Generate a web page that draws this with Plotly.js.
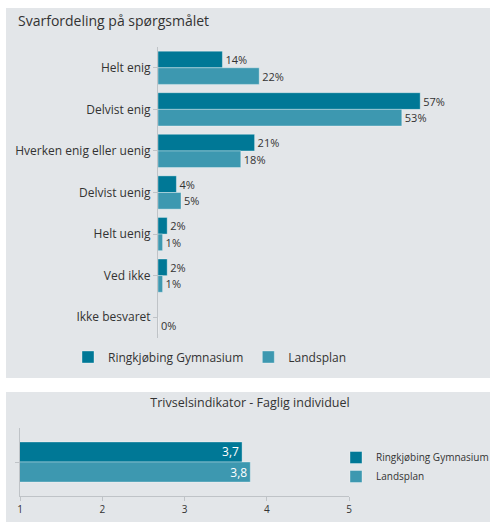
<!DOCTYPE html>
<html>
<head>
<meta charset="utf-8">
<script src="https://cdn.plot.ly/plotly-3.0.1.min.js"></script>
<style>
  html, body { margin: 0; padding: 0; background: #ffffff; width: 490px; height: 522px; overflow: hidden; }
  #top { position: absolute; left: 6px; top: 8px; width: 484px; height: 370px; }
  #bottom { position: absolute; left: 6px; top: 392px; width: 484px; height: 130px; }
</style>
</head>
<body>
<div id="top"></div>
<div id="bottom"></div>
<script>
// ---- Data ----
const categories = ["Helt enig", "Delvist enig", "Hverken enig eller uenig", "Delvist uenig", "Helt uenig", "Ved ikke", "Ikke besvaret"];
const seriesNames = ["Ringkjøbing Gymnasium", "Landsplan"];
const ringkobingPct = [14, 57, 21, 4, 2, 2, null];
const landsplanPct = [22, 53, 18, 5, 1, 1, 0];

const indicatorCategory = ["Trivselsindikator - Faglig individuel"];
const ringkobingIndex = [3.7];
const landsplanIndex = [3.8];
const indexTicks = [1, 2, 3, 4, 5];

// ---- Styles ----
const FONT = "'Open Sans', 'Noto Sans', sans-serif";
const PANEL = "#e3e6e9";
const DARK = "#007896";
const LIGHT = "#3d98b0";
const TEXT = "#333333";

// ---- Top chart ----
const topTraces = [
  {
    type: "bar", orientation: "h", name: seriesNames[0],
    y: categories, x: ringkobingPct,
    marker: { color: DARK, line: { color: "rgba(255,255,255,0.35)", width: 1 } },
    texttemplate: "%{x}%", textposition: "outside", cliponaxis: false,
    textfont: { family: FONT, size: 11, color: TEXT }
  },
  {
    type: "bar", orientation: "h", name: seriesNames[1],
    y: categories, x: landsplanPct,
    marker: { color: LIGHT, line: { color: "rgba(255,255,255,0.35)", width: 1 } },
    texttemplate: "%{x}%", textposition: "outside", cliponaxis: false,
    textfont: { family: FONT, size: 11, color: TEXT }
  }
];

const topLayout = {
  width: 484, height: 370,
  paper_bgcolor: PANEL, plot_bgcolor: PANEL,
  margin: { l: 152, r: 10, t: 39, b: 40, autoexpand: false },
  font: { family: FONT, size: 12, color: TEXT },
  title: {
    text: "Svarfordeling på spørgsmålet",
    font: { family: FONT, size: 14, color: TEXT },
    x: 12 / 484, xanchor: "left", xref: "container",
    y: 1 - 13 / 370, yanchor: "middle", yref: "container"
  },
  barmode: "group", bargap: 0.2, bargroupgap: 0,
  xaxis: {
    range: [0, 70], showgrid: false, zeroline: false,
    showticklabels: false, ticks: "", showline: false, fixedrange: true
  },
  yaxis: {
    type: "category", autorange: "reversed",
    showgrid: false, zeroline: false,
    showline: true, linecolor: "#bfc3c7", linewidth: 1,
    ticks: "outside", ticklen: 4, tickcolor: "#bfc3c7",
    tickfont: { family: FONT, size: 12, color: TEXT },
    fixedrange: true
  },
  showlegend: true,
  legend: {
    orientation: "h", x: 62 / 484, xanchor: "left", xref: "container",
    y: 21 / 370, yanchor: "middle", yref: "container",
    font: { family: FONT, size: 12, color: TEXT },
    itemwidth: 30, bgcolor: "rgba(0,0,0,0)"
  }
};

// ---- Bottom chart ----
const botTraces = [
  {
    type: "bar", orientation: "h", name: seriesNames[0],
    y: indicatorCategory, x: ringkobingIndex,
    marker: { color: DARK, line: { color: "rgba(255,255,255,0.35)", width: 1 } },
    text: ringkobingIndex.map(v => v.toFixed(1).replace(".", ",")),
    textposition: "inside", insidetextanchor: "end", textangle: 0, constraintext: "none",
    textfont: { family: FONT, size: 12, color: "#ffffff" }
  },
  {
    type: "bar", orientation: "h", name: seriesNames[1],
    y: indicatorCategory, x: landsplanIndex,
    marker: { color: LIGHT, line: { color: "rgba(255,255,255,0.35)", width: 1 } },
    text: landsplanIndex.map(v => v.toFixed(1).replace(".", ",")),
    textposition: "inside", insidetextanchor: "end", textangle: 0, constraintext: "none",
    textfont: { family: FONT, size: 12, color: "#ffffff" }
  }
];

const botLayout = {
  width: 484, height: 130,
  paper_bgcolor: PANEL, plot_bgcolor: PANEL,
  margin: { l: 13.5, r: 141, t: 36, b: 26, autoexpand: false },
  font: { family: FONT, size: 11, color: TEXT },
  title: {
    text: "Trivselsindikator - Faglig individuel",
    font: { family: FONT, size: 12.5, color: TEXT },
    x: 244 / 484, xanchor: "center", xref: "container",
    y: 1 - 11 / 130, yanchor: "middle", yref: "container"
  },
  barmode: "group", bargap: 0.41, bargroupgap: 0,
  xaxis: {
    range: [1, 5], tickvals: indexTicks, ticktext: indexTicks.map(String),
    showgrid: false, zeroline: false,
    showline: true, linecolor: "#bfc3c7", linewidth: 1,
    ticks: "outside", ticklen: 4, tickcolor: "#bfc3c7",
    tickfont: { family: FONT, size: 10, color: TEXT },
    fixedrange: true
  },
  yaxis: {
    type: "category", autorange: "reversed",
    showgrid: false, zeroline: false, showticklabels: false,
    showline: true, linecolor: "#bfc3c7", linewidth: 1,
    ticks: "outside", ticklen: 4, tickcolor: "#bfc3c7",
    fixedrange: true
  },
  showlegend: true,
  legend: {
    orientation: "v", x: 330 / 484, xanchor: "left", xref: "container",
    y: 1 - 75 / 130, yanchor: "middle", yref: "container",
    font: { family: FONT, size: 10, color: TEXT },
    itemwidth: 30, tracegroupgap: 0, bgcolor: "rgba(0,0,0,0)"
  }
};

const config = { displayModeBar: false, staticPlot: true };
Plotly.newPlot("top", topTraces, topLayout, config);
Plotly.newPlot("bottom", botTraces, botLayout, config);
</script>
</body>
</html>
